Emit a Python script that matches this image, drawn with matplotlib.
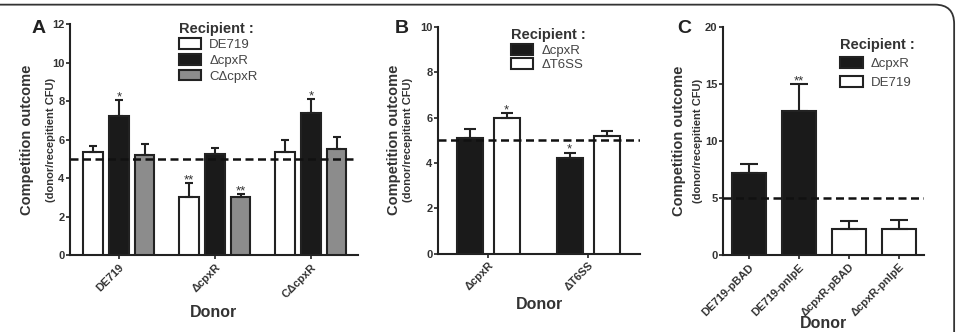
import matplotlib
matplotlib.use('Agg')
import matplotlib.pyplot as plt
from matplotlib.patches import Patch, FancyBboxPatch
import numpy as np

plt.rcParams['font.family'] = ['Liberation Sans', 'DejaVu Sans']

# Panel A
a_donors = ['DE719', '\u0394cpxR', 'C\u0394cpxR']
a_recipients = ['DE719', '\u0394cpxR', 'C\u0394cpxR']
a_values = [[5.37, 3.0, 5.33],     # DE719 recipient
            [7.24, 5.23, 7.36],    # dcpxR recipient
            [5.19, 3.03, 5.5]]     # CdcpxR recipient
a_errors = [[0.29, 0.72, 0.64],
            [0.81, 0.31, 0.73],
            [0.58, 0.12, 0.65]]
a_stars = [['', '**', ''], ['*', '', '*'], ['', '**', '']]

# Panel B
b_donors = ['\u0394cpxR', '\u0394T6SS']
b_recipients = ['\u0394cpxR', '\u0394T6SS']
b_values = [[5.11, 4.23], [6.0, 5.19]]
b_errors = [[0.38, 0.22], [0.19, 0.22]]
b_stars = [['', '*'], ['*', '']]

# Panel C
c_donors = ['DE719-pBAD', 'DE719-pnlpE', '\u0394cpxR-pBAD', '\u0394cpxR-pnlpE']
c_recipients = ['\u0394cpxR', 'DE719']
c_values = [7.15, 12.64, 2.25, 2.3]
c_errors = [0.82, 2.31, 0.75, 0.76]
c_recip_idx = [0, 0, 1, 1]
c_stars = ['', '**', '', '']

fills_a = ['white', '#1a1a1a', '#8c8c8c']
fills_b = ['#1a1a1a', 'white']
fills_c = ['#1a1a1a', 'white']

fig = plt.figure(figsize=(9.57, 3.32), dpi=100)

# frame around the figure (rounded corner top right)
frame = FancyBboxPatch((-0.05, -0.2), 1.047, 1.186, boxstyle='round,pad=0,rounding_size=0.02',
                       transform=fig.transFigure, fill=False, lw=1.3, ec='#333333',
                       mutation_aspect=957 / 332)
fig.patches.append(frame)

axA = fig.add_axes([0.0731, 0.2319, 0.3010, 0.6958])
axB = fig.add_axes([0.4577, 0.2364, 0.2111, 0.6823])
axC = fig.add_axes([0.7555, 0.2319, 0.2100, 0.6877])

lab_col = '#333333'


def style_axis(ax, ymax, step):
    for s in ['top', 'right']:
        ax.spines[s].set_visible(False)
    for s in ['left', 'bottom']:
        ax.spines[s].set_linewidth(1.5)
        ax.spines[s].set_color('#222222')
    ax.set_ylim(0, ymax)
    ax.set_yticks(np.arange(0, ymax + 0.1, step))
    ax.tick_params(axis='y', direction='out', length=3, width=1.2, labelsize=8, colors='#222222',
                   pad=1)
    ax.tick_params(axis='x', direction='out', length=3, width=1.2, labelsize=8, colors='#222222',
                   pad=2)
    for t in ax.get_yticklabels():
        t.set_fontweight('bold')
        t.set_color(lab_col)
    ax.axhline(5, ls=(0, (3.2, 1.8)), lw=1.8, color='#111111', zorder=5)
    ax.set_ylabel('Competition outcome', fontsize=10.5, fontweight='bold', color=lab_col)


def errbars(ax, x, v, e, w):
    ax.errorbar(x, v, yerr=[[0], [e]], fmt='none', ecolor='#222222', elinewidth=1.5,
                capsize=w, capthick=1.5, zorder=4)


def star(ax, x, y, s):
    # significance marks sit just above the error-bar cap
    ax.annotate(s, (x, y), xytext=(0, 0), textcoords='offset points',
                ha='center', va='baseline', fontsize=9.5, color=lab_col, zorder=6)


def legend(ax, labels, fills, anchor, gap=0.5):
    handles = [Patch(facecolor=f, edgecolor='#222222', linewidth=1.5) for f in fills]
    lg = ax.legend(handles, labels, loc='upper left', bbox_to_anchor=anchor,
                   bbox_transform=fig.transFigure, frameon=False, fontsize=9.5,
                   title='Recipient :', handlelength=1.7, handleheight=0.9,
                   handletextpad=0.6, labelspacing=gap, borderpad=0)
    lg.get_title().set_fontweight('bold')
    lg.get_title().set_fontsize(10.5)
    lg.get_title().set_color(lab_col)
    lg._legend_box.align = 'left'
    for t in lg.get_texts():
        t.set_color('#444444')
    return lg


def xlabels(ax, labels, fs=8):
    ax.set_xticklabels(labels, rotation=45, ha='right', rotation_mode='anchor',
                       fontsize=fs, fontweight='bold', color=lab_col)


# ---- Panel A
w = 0.2
off = 0.27
xa = np.arange(len(a_donors))
for i in range(3):
    xs = xa + (i - 1) * off
    axA.bar(xs, a_values[i], width=w, color=fills_a[i], edgecolor='#222222', lw=1.5, zorder=3)
    for j in range(3):
        errbars(axA, xs[j], a_values[i][j], a_errors[i][j], 3)
        if a_stars[i][j]:
            star(axA, xs[j], a_values[i][j] + a_errors[i][j], a_stars[i][j])
axA.set_xlim(-0.51, 2.49)
axA.set_xticks(xa)
style_axis(axA, 12, 2)
xlabels(axA, a_donors)
axA.set_xlabel('Donor', fontsize=11.5, fontweight='bold', color=lab_col, labelpad=4)
legend(axA, a_recipients, fills_a, (0.180, 0.955), gap=0.2)

# ---- Panel B
wb = 0.26
offb = 0.185
xb = np.arange(len(b_donors))
for i in range(2):
    xs = xb + (i - 0.5) * 2 * offb
    axB.bar(xs, b_values[i], width=wb, color=fills_b[i], edgecolor='#222222', lw=1.5, zorder=3)
    for j in range(2):
        errbars(axB, xs[j], b_values[i][j], b_errors[i][j], 4.3)
        if b_stars[i][j]:
            star(axB, xs[j], b_values[i][j] + b_errors[i][j], b_stars[i][j])
axB.set_xlim(-0.5, 1.52)
axB.set_xticks(xb)
style_axis(axB, 10, 2)
xlabels(axB, b_donors)
axB.set_xlabel('Donor', fontsize=11.5, fontweight='bold', color=lab_col, labelpad=3)
legend(axB, b_recipients, fills_b, (0.527, 0.935), gap=0.12)

# ---- Panel C
xc = np.arange(len(c_donors))
for j in range(4):
    f = fills_c[c_recip_idx[j]]
    axC.bar(xc[j], c_values[j], width=0.68, color=f, edgecolor='#222222', lw=1.5, zorder=3)
    errbars(axC, xc[j], c_values[j], c_errors[j], 6.5)
    if c_stars[j]:
        star(axC, xc[j], c_values[j] + c_errors[j], c_stars[j])
axC.set_xlim(-0.52, 3.5)
axC.set_xticks(xc)
style_axis(axC, 20, 5)
xlabels(axC, c_donors)
axC.set_xlabel('Donor', fontsize=11.5, fontweight='bold', color=lab_col, labelpad=-2)
legend(axC, c_recipients, fills_c, (0.871, 0.905), gap=0.4)

# y label second line and panel letters
for ax, xpos in [(axA, 0.053), (axB, 0.4263), (axC, 0.7294)]:
    pos = ax.get_position()
    fig.text(xpos, pos.y0 + pos.height / 2, '(donor/recepitient CFU)', rotation=90,
             ha='center', va='center', fontsize=8, fontweight='bold', color=lab_col)

axA.yaxis.set_label_coords(-0.125, 0.5)
axB.yaxis.set_label_coords(-0.183, 0.5)
axC.yaxis.set_label_coords(-0.184, 0.5)

fig.text(0.033, 0.915, 'A', fontsize=14, fontweight='bold', color='#222222', ha='left', va='center')
fig.text(0.412, 0.915, 'B', fontsize=14, fontweight='bold', color='#222222', ha='left', va='center')
fig.text(0.708, 0.915, 'C', fontsize=14, fontweight='bold', color='#222222', ha='left', va='center')

fig.savefig('out.png', dpi=100, facecolor='white')
